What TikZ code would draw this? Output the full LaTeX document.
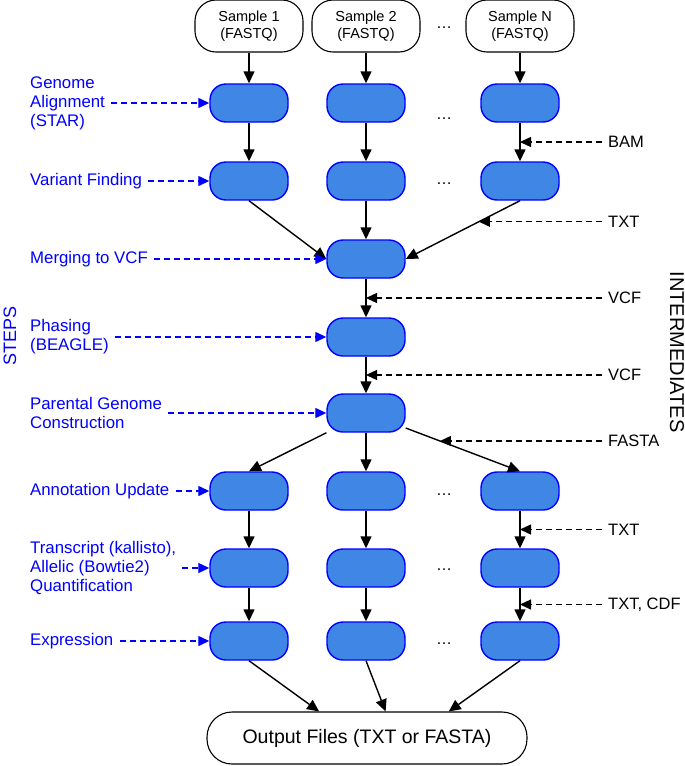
\documentclass[tikz,border=0pt]{standalone}
\usepackage{fontspec}
\setmainfont{Liberation Sans}
\usetikzlibrary{arrows.meta,positioning}
\definecolor{stepblue}{RGB}{0,0,255}
\definecolor{boxfill}{RGB}{64,134,228}

\begin{document}
\begin{tikzpicture}
  [x=1pt,y=-1pt,
   task/.style={draw=stepblue,fill=boxfill,line width=1.4pt,rounded corners=16pt,
     minimum width=78pt,minimum height=38pt},
   sample/.style={draw,line width=1.1pt,rounded corners=21pt,minimum width=108pt,
     minimum height=52pt,align=center,font=\fontsize{14.5}{16.5}\selectfont},
   flow/.style={-{Triangle[length=12pt,width=11pt]},line width=1.4pt},
   stepline/.style={draw=stepblue,dash pattern=on 6pt off 4pt,line width=1.3pt,
     -{Triangle[length=11pt,width=10pt,fill=stepblue]}},
   midline/.style={dash pattern=on 6pt off 4pt,line width=1.3pt,
     -{Triangle[length=11pt,width=10pt]}},
   steplabel/.style={anchor=west,text=stepblue,align=left,inner sep=6pt,
     font=\fontsize{16.8}{19}\selectfont},
   midlabel/.style={anchor=west,inner sep=6pt,font=\fontsize{16.5}{18}\selectfont},
   gap/.style={font=\fontsize{16}{16}\selectfont,inner sep=0pt}]
  \useasboundingbox (0,0) rectangle (685,766);

  % inputs
  \node[sample] (s1) at (249,26) {Sample 1\\(FASTQ)};
  \node[sample] (s2) at (366,26) {Sample 2\\(FASTQ)};
  \node[sample] (sN) at (520,26) {Sample N\\(FASTQ)};
  \node[gap] (d0) at (444,28) {\dots};

  % per sample steps
  \node[task] (a1) at (249,103) {};
  \node[task] (a2) at (366,103) {};
  \node[task] (aN) at (520,103) {};
  \node[gap] (d1) at (444,119) {\dots};
  \node[task] (v1) at (249,181) {};
  \node[task] (v2) at (366,181) {};
  \node[task] (vN) at (520,181) {};
  \node[gap] (d2) at (444,184) {\dots};

  % merged steps
  \node[task] (merge) at (366,259) {};
  \node[task] (phase) at (366,337) {};
  \node[task] (par) at (366,413) {};

  % per sample again
  \node[task] (n1) at (249,491) {};
  \node[task] (n2) at (366,491) {};
  \node[task] (nN) at (520,491) {};
  \node[gap] (d3) at (444,495) {\dots};
  \node[task] (q1) at (249,568) {};
  \node[task] (q2) at (366,568) {};
  \node[task] (qN) at (520,568) {};
  \node[gap] (d4) at (444,570) {\dots};
  \node[task] (e1) at (249,641) {};
  \node[task] (e2) at (366,641) {};
  \node[task] (eN) at (520,641) {};
  \node[gap] (d5) at (444,644) {\dots};

  \node[draw,line width=1.1pt,rounded corners=25pt,minimum width=320pt,minimum height=52pt,
    font=\fontsize{19.5}{22}\selectfont] (out) at (367,738) {Output Files (TXT or FASTA)};

  % connectors
  \foreach \c in {1,2,N} {
    \draw[flow] (s\c) -- (a\c);
    \draw[flow] (n\c) -- (q\c);
    \draw[flow] (q\c) -- (e\c);
  }
  \draw[flow] (a1) -- (v1);
  \draw[flow] (a2) -- (v2);
  \draw[flow] (aN) -- coordinate (bamPt) (vN);
  \draw[flow] (v1.south) -- (merge.west);
  \draw[flow] (v2) -- (merge);
  \draw[flow] (vN.south) -- coordinate[pos=0.36] (txtPt) (merge.east);
  \draw[flow] (merge) -- coordinate (vcfA) (phase);
  \draw[flow] (phase) -- coordinate (vcfB) (par);
  \draw[flow] (par) -- (n1.north);
  \draw[flow] (par) -- (n2);
  \draw[flow] (par) -- coordinate[pos=0.3] (fastaPt) (nN.north);
  \draw[flow] (e1.south) -- (out.151);
  \draw[flow] (e2.south) -- (out.55);
  \draw[flow] (eN.south) -- (out.18);

  % steps
  \node[steplabel] (lAlign) at (24,103) {Genome\\Alignment\\(STAR)};
  \node[steplabel] (lVar) at (24,181) {Variant Finding};
  \node[steplabel] (lMerge) at (24,259) {Merging to VCF};
  \node[steplabel] (lPhase) at (24,337) {Phasing\\(BEAGLE)};
  \node[steplabel] (lPar) at (24,413) {Parental Genome\\Construction};
  \node[steplabel] (lAnn) at (24,491) {Annotation Update};
  \node[steplabel] (lQuant) at (24,568) {Transcript (kallisto),\\Allelic (Bowtie2)\\Quantification};
  \node[steplabel] (lExpr) at (24,641) {Expression};
  \draw[stepline] (lAlign) -- (a1);
  \draw[stepline] (lVar) -- (v1);
  \draw[stepline] (lMerge) -- (merge);
  \draw[stepline] (lPhase) -- (phase);
  \draw[stepline] (lPar) -- (par);
  \draw[stepline] (lAnn) -- (n1);
  \draw[stepline] (lQuant) -- (q1);
  \draw[stepline] (lExpr) -- (e1);
  \node[rotate=90,text=stepblue,font=\fontsize{18}{20}\selectfont] (steps) at (10,336) {STEPS};

  % intermediates
  \coordinate (xr) at (602,0);
  \path (nN) -- coordinate (txtB) (qN);
  \path (qN) -- coordinate (cdfPt) (eN);
  \node[midlabel] (lBam) at (bamPt -| xr) {BAM};
  \node[midlabel] (lTxtA) at (txtPt -| xr) {TXT};
  \node[midlabel] (lVcfA) at (vcfA -| xr) {VCF};
  \node[midlabel] (lVcfB) at (vcfB -| xr) {VCF};
  \node[midlabel] (lFasta) at (fastaPt -| xr) {FASTA};
  \node[midlabel] (lTxtB) at (txtB -| xr) {TXT};
  \node[midlabel] (lCdf) at (cdfPt -| xr) {TXT, CDF};
  \draw[midline] (lBam) -- (bamPt);
  \draw[midline] (lTxtA) -- (txtPt);
  \draw[midline] (lVcfA) -- (vcfA);
  \draw[midline] (lVcfB) -- (vcfB);
  \draw[midline] (lFasta) -- (fastaPt);
  \draw[midline] (lTxtB) -- (txtB);
  \draw[midline] (lCdf) -- (cdfPt);
  \node[rotate=-90,font=\fontsize{20}{22}\selectfont] (inter) at (677,352) {INTERMEDIATES};
\end{tikzpicture}
\end{document}
